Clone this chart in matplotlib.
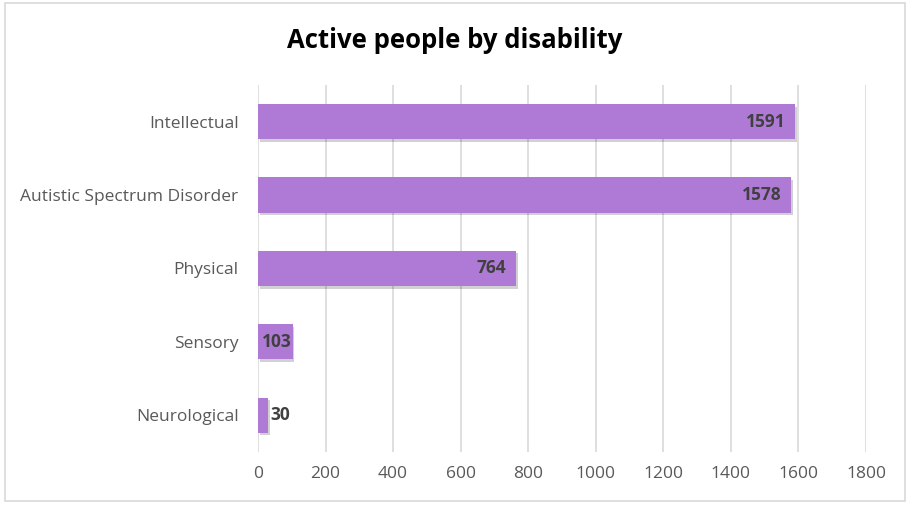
import matplotlib.pyplot as plt
from matplotlib.patches import Rectangle

# --- Data ---
categories = ["Intellectual", "Autistic Spectrum Disorder", "Physical", "Sensory", "Neurological"]
values = [1591, 1578, 764, 103, 30]
xticks = [0, 200, 400, 600, 800, 1000, 1200, 1400, 1600, 1800]

bar_color = "#AF7AD6"
text_gray = "#595959"

plt.rcParams["font.family"] = ["Open Sans", "DejaVu Sans"]

fig = plt.figure(figsize=(9.09, 5.11), dpi=100)
ax = fig.add_axes([0.2838, 0.1155, 0.6689, 0.7182])

# outer chart frame
fig.patches.append(Rectangle((0.006, 0.02), 0.99, 0.975, transform=fig.transFigure,
                             fill=False, edgecolor="#D9D9D9", linewidth=1.2))

y = list(range(len(categories)))[::-1]

# soft shadow behind bars
ax.barh([v - 0.035 for v in y], values, height=0.48, left=5, color="#000000",
        alpha=0.18, zorder=2)
ax.barh(y, values, height=0.48, color=bar_color, zorder=3)

lbl = dict(textcoords="offset points", va="center", fontsize=12.5,
           fontweight="bold", color="#404040", zorder=4)
for yi, v in zip(y, values):
    if v > 300:
        ax.annotate(str(v), (v, yi), xytext=(-7, 0), ha="right", **lbl)
    elif v > 60:
        ax.annotate(str(v), (0, yi), xytext=(2.5, 0), ha="left", **lbl)
    else:
        ax.annotate(str(v), (v, yi), xytext=(1.5, 0), ha="left", **lbl)

ax.set_xlim(0, 1800)
ax.set_ylim(-0.5, len(categories) - 0.5)
ax.set_xticks(xticks)
ax.set_xticklabels([str(t) for t in xticks])
ax.set_yticks(y)
ax.set_yticklabels(categories)
ax.tick_params(axis="both", length=0, labelsize=12.5, colors=text_gray)
ax.tick_params(axis="x", pad=10)
ax.tick_params(axis="y", pad=14)
ax.xaxis.grid(True, color="#D9D9D9", linewidth=1.2, zorder=0)
ax.set_axisbelow(True)
for s in ax.spines.values():
    s.set_visible(False)

fig.text(0.5, 0.92, "Active people by disability", ha="center", va="center",
         fontsize=18.5, fontweight="bold", color="#000000")

plt.savefig("out.png", dpi=100)
plt.close()
